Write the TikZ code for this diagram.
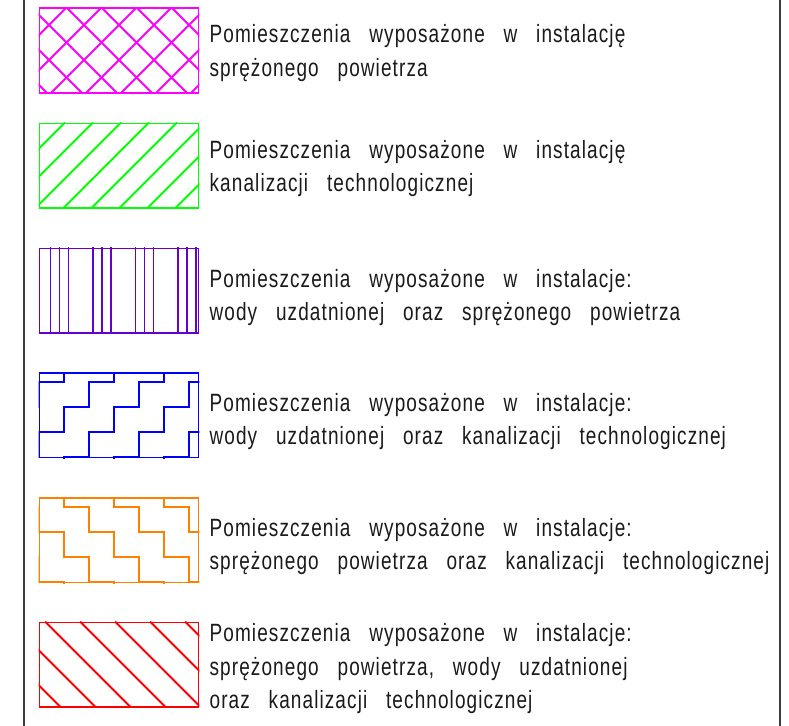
\documentclass[tikz,border=0pt]{standalone}
\usepackage{fontspec}
\newfontfamily\legendfont[FakeStretch=0.76,LetterSpace=4.4,WordSpace=2.95]{Liberation Sans}
\usepackage{tikz}
\definecolor{lgMagenta}{HTML}{FF00FF}
\definecolor{lgGreen}{HTML}{00FF00}
\definecolor{lgPurple}{HTML}{6600CC}
\definecolor{lgBlue}{HTML}{0000FF}
\definecolor{lgOrange}{HTML}{FF8000}
\definecolor{lgRed}{HTML}{FF0000}
\definecolor{lgText}{HTML}{1A1A1A}
\definecolor{lgFrame}{HTML}{3C3C3C}
\tikzset{
  lg-box/.style={
    draw, line width=1.9pt, minimum width=159pt, minimum height=84.5pt,
    inner sep=0pt, anchor=north west
  },
  lg-line/.style={line width=1.9pt},
  lg-text/.style={
    anchor=base west, inner sep=0pt, align=left, text=lgText,
    font=\legendfont\fontsize{25}{33.5}\selectfont
  },
  lg-frame/.style={draw=lgFrame, line width=1.9pt}
}
% kreskowanie w obrysie prostokata: #1 prostokat, #2 kolor, #3 wzor
\newcommand\lgfill[3]{%
  \begin{scope}
    \clip (#1.north west) rectangle (#1.south east);
    \begin{scope}[shift={(#1.north west)}, lg-line, draw=#2]
      #3
    \end{scope}
  \end{scope}}
\newcommand\lgCross{%
  \foreach \c in {-77,-42,...,238} {
    \draw (\c,0) -- ++(100,100);
    \draw (\c,0) -- ++(-100,100);
  }}
\newcommand\lgDiagUp{%
  \foreach \c in {26.5,54.5,...,250.5}
    \draw (\c,0) -- ++(-100,100);}
\newcommand\lgVert{%
  \foreach \k in {0,1,2,3}
    \foreach \j in {0,1,2}
      \draw ({12+42.5*\k+9*\j},-5) -- ++(0,95);}
\newcommand\lgStepL{%
  \foreach \s in {-50,0,...,150}
    \draw (\s+75.5,-15) -- (\s+75.5,10) -- (\s+50.5,10) -- (\s+50.5,35)
      -- (\s+25.5,35) -- (\s+25.5,60) -- (\s+0.5,60) -- (\s+0.5,85)
      -- (\s-24.5,85) -- (\s-24.5,110);}
\newcommand\lgStepR{%
  \foreach \s in {-100,-50,...,100}
    \draw (\s+25.5,-15) -- (\s+25.5,10) -- (\s+50.5,10) -- (\s+50.5,35)
      -- (\s+75.5,35) -- (\s+75.5,60) -- (\s+100.5,60) -- (\s+100.5,85)
      -- (\s+125.5,85) -- (\s+125.5,110);}
\newcommand\lgDiagDown{%
  \foreach \c in {-98.5,-63.5,...,146.5}
    \draw (\c,0) -- ++(100,100);}

\begin{document}
\begin{tikzpicture}[x=1pt, y=-1pt]
\useasboundingbox (0,0) rectangle (789,725);
% --- ramka ---
\draw[lg-frame] (24,-5) -- (24,730);
\draw[lg-frame] (780,-5) -- (780,730);

% --- prostokaty legendy ---
\node[lg-box, draw=lgMagenta] (box1) at (38.5,7.5) {};
\node[lg-box, draw=lgGreen] (box2) at (38.5,122.5) {};
\node[lg-box, draw=lgPurple] (box3) at (38.5,247.5) {};
\node[lg-box, draw=lgBlue] (box4) at (38.5,372) {};
\node[lg-box, draw=lgOrange] (box5) at (38.5,497) {};
\node[lg-box, draw=lgRed] (box6) at (38.5,621.5) {};

% --- kreskowania ---
\lgfill{box1}{lgMagenta}{\lgCross}
\lgfill{box2}{lgGreen}{\lgDiagUp}
\lgfill{box3}{lgPurple}{\lgVert}
\lgfill{box4}{lgBlue}{\lgStepL}
\lgfill{box5}{lgOrange}{\lgStepR}
\lgfill{box6}{lgRed}{\lgDiagDown}

% --- opisy ---
\node[lg-text] (txt1) at ([xshift=10pt,yshift=-69pt]box1.north east)
  {Pomieszczenia wyposażone w instalację\\sprężonego powietrza};
\node[lg-text] (txt2) at ([xshift=10pt,yshift=-69pt]box2.north east)
  {Pomieszczenia wyposażone w instalację\\kanalizacji technologicznej};
\node[lg-text] (txt3) at ([xshift=10pt,yshift=-73pt]box3.north east)
  {Pomieszczenia wyposażone w instalacje:\\wody uzdatnionej oraz sprężonego powietrza};
\node[lg-text] (txt4) at ([xshift=10pt,yshift=-72.5pt]box4.north east)
  {Pomieszczenia wyposażone w instalacje:\\wody uzdatnionej oraz kanalizacji technologicznej};
\node[lg-text] (txt5) at ([xshift=10pt,yshift=-72.5pt]box5.north east)
  {Pomieszczenia wyposażone w instalacje:\\sprężonego powietrza oraz kanalizacji technologicznej};
\node[lg-text] (txt6) at ([xshift=10pt,yshift=-87pt]box6.north east)
  {Pomieszczenia wyposażone w instalacje:\\sprężonego powietrza, wody uzdatnionej\\oraz kanalizacji technologicznej};
\end{tikzpicture}
\end{document}
